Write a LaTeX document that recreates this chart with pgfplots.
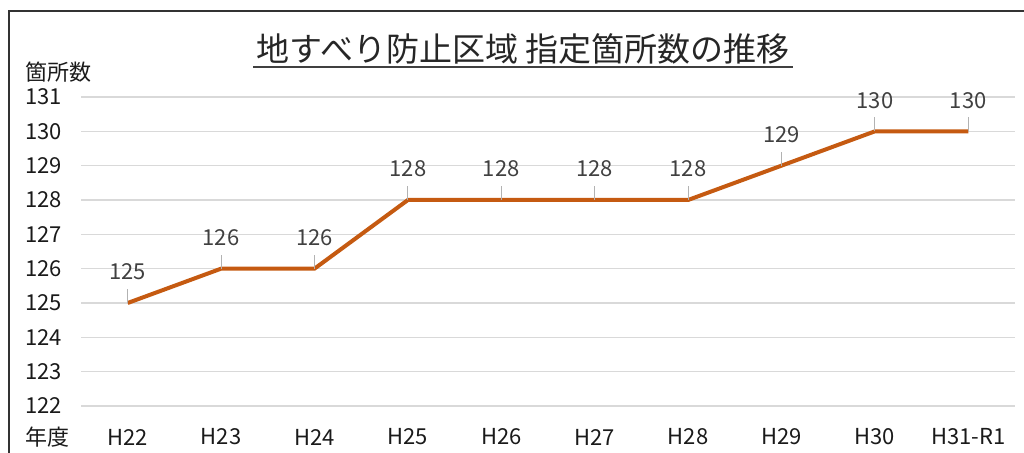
\documentclass[border=0pt]{standalone}
\usepackage{pgfplots}
\pgfplotsset{compat=1.18}
\usepackage{fontspec}
\setmainfont{Noto Sans CJK JP}
\definecolor{lineor}{HTML}{C55A11}
\definecolor{gridc}{HTML}{D9D9D9}
\definecolor{labc}{HTML}{404040}
\definecolor{tickc}{HTML}{1A1A1A}
\begin{document}
\begin{tikzpicture}
\begin{axis}[
  scale only axis,
  width=467pt, height=154.5pt,
  xmin=-0.5, xmax=9.5,
  ymin=122, ymax=131,
  ytick={122,123,...,131},
  xtick={0,...,9},
  xticklabels={H22,H23,H24,H25,H26,H27,H28,H29,H30,H31-R1},
  axis line style={draw=none},
  major tick length=0pt,
  ymajorgrids,
  grid style={gridc, line width=0.75pt},
  tick label style={font=\fontsize{11}{13}\selectfont, text=tickc},
  yticklabel style={anchor=west, inner sep=0pt, xshift=-28pt},
  xticklabel style={anchor=center, inner sep=0pt, yshift=-15.5pt},
  /pgf/number format/assume math mode=true,
  clip=false,
  nodes near coords,
  every node near coord/.append style={anchor=base, inner sep=0pt, yshift=11.5pt, font=\fontsize{11}{13}\selectfont, text=labc},
]
\addplot[lineor, line width=2pt, mark=none,
  error bars/.cd, y dir=plus, y fixed=0.41, error mark=none,
  error bar style={draw=gray!60, line width=0.4pt}]
  table {
x y
0 125
1 126
2 126
3 128
4 128
5 128
6 128
7 129
8 130
9 130
};
\end{axis}
\begin{scope}[x=0.5pt, y=-0.5pt, shift={(-81,-406)}]
  \path[use as bounding box] (0,0) rectangle (1024,453);
  \draw[line width=1pt, draw=black!80] (9,453) -- (9,11) -- (1024,11);
  \node[font=\fontsize{16.5}{18}\selectfont, text=black!85] at (523,49) {地すべり防止区域 指定箇所数の推移};
  \draw[line width=1pt, draw=black!75] (253,67) -- (793,67);
  \node[anchor=west, inner sep=0pt, font=\fontsize{11}{13}\selectfont, text=tickc] at (25,72) {箇所数};
  \node[anchor=west, inner sep=0pt, font=\fontsize{11}{13}\selectfont, text=tickc] at (25,437) {年度};
\end{scope}
\end{tikzpicture}
\end{document}
